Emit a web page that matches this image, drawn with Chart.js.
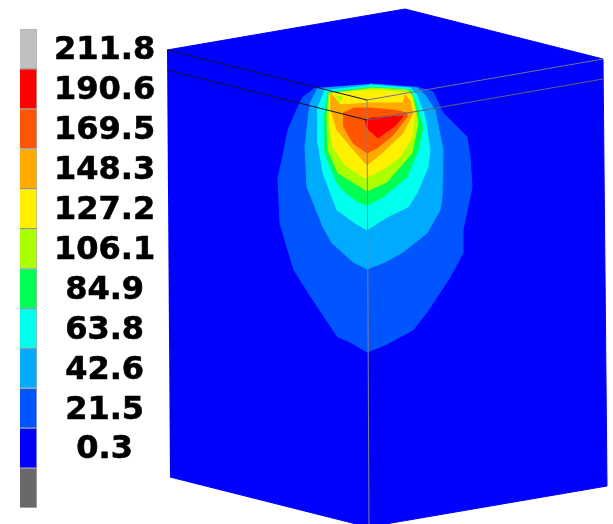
<!DOCTYPE html>
<html>
<head>
<meta charset="utf-8">
<title>Contour plot</title>
<script src="https://cdn.jsdelivr.net/npm/chart.js@4/dist/chart.umd.min.js"></script>
<style>
    html, body { margin: 0; padding: 0; background: #fff; }
    #wrap { position: relative; width: 613px; height: 524px; overflow: hidden; }
    #wrap canvas { position: absolute; top: 0; left: 0; }
</style>
</head>
<body>
<div id="wrap">
    <canvas id="plotChart" width="613" height="524"></canvas>
    <canvas id="legendChart" width="165" height="524"></canvas>
</div>
<script>
// Legend bins, top to bottom (last bin has no label)
const levelLabels = ['211.8', '190.6', '169.5', '148.3', '127.2', '106.1', '84.9', '63.8', '42.6', '21.5', '0.3', ''];
const levelColors = ['#c0c0c0', '#ff0000', '#ff5500', '#ffaa00', '#fff000', '#aaff00', '#00ff55', '#00ffee', '#00aaff', '#0055ff', '#0000ff', '#696969'];
const binCounts = [1, 1, 1, 1, 1, 1, 1, 1, 1, 1, 1, 1];

// Block outline and contours as [x, y]
const blockOutline = [[167, 50], [405, 9], [603, 59], [607, 486], [368, 527], [170, 477]];
const contour21 = [[315, 88], [303, 97], [298, 107], [288, 130], [282, 160], [278, 178], [280, 223], [287, 247], [294, 270], [313, 300], [335, 333], [338, 337], [350, 342], [360, 348], [367, 352], [385, 345], [413, 330], [427, 312], [437, 297], [450, 277], [463, 253], [463, 230], [472, 187], [470, 157], [467, 137], [443, 113], [433, 92], [417, 87], [370, 84]];
const contour42 = [[318, 88], [310, 103], [305, 147], [307, 187], [323, 227], [332, 243], [342, 252], [353, 262], [367, 269], [385, 262], [403, 252], [427, 233], [440, 210], [442, 197], [443, 150], [435, 110], [425, 95], [417, 88], [370, 84]];
const contour63 = [[325, 90], [318, 107], [318, 143], [323, 173], [337, 210], [355, 223], [367, 230], [387, 217], [408, 207], [417, 193], [428, 167], [430, 150], [425, 117], [417, 95], [410, 88], [370, 85]];
const contour84 = [[328, 92], [325, 113], [325, 153], [337, 183], [345, 192], [358, 202], [367, 205], [383, 197], [407, 177], [418, 150], [423, 127], [415, 100], [410, 90], [370, 87]];
const contour106 = [[329, 93], [327, 117], [328, 150], [338, 173], [367, 191], [387, 182], [412, 153], [418, 123], [413, 97], [408, 90], [370, 88]];
const contour127 = [[330, 93], [329, 120], [333, 147], [345, 165], [365, 178], [382, 170], [400, 157], [412, 137], [415, 113], [410, 93], [370, 90]];
const contour148 = [[331, 93], [331, 110], [337, 130], [352, 148], [367, 165], [383, 152], [403, 133], [413, 113], [410, 100], [405, 95], [403, 103], [370, 103], [340, 105], [335, 98]];
const contour169 = [[344, 112], [344, 127], [353, 143], [367, 153], [377, 148], [393, 135], [407, 117], [407, 113], [393, 110], [370, 108], [353, 108]];
const contour190 = [[365, 120], [367, 128], [378, 138], [396, 125], [403, 116], [370, 118]];
const contourNotch = [[336, 96], [343, 97], [339, 103]];

// Edges of the block
const edgeUpperLeft = [[167, 50], [367, 100]];
const edgeUpperRight = [[367, 100], [603, 59]];
const edgeLowerLeft = [[167, 70], [367, 120]];
const edgeLowerRight = [[367, 120], [603, 79]];
const edgeFront = [[367, 100], [369, 527]];

function toPoints(list) {
    return list.map(p => ({ x: p[0], y: p[1] }));
}

function areaDataset(list, color) {
    return {
        data: toPoints(list),
        showLine: true,
        fill: 'shape',
        backgroundColor: color,
        borderColor: color,
        borderWidth: 1,
        pointRadius: 0,
        tension: 0
    };
}

function edgeDataset(list, color) {
    return {
        data: toPoints(list),
        showLine: true,
        fill: false,
        borderColor: color,
        borderWidth: 1,
        pointRadius: 0
    };
}

function createPlot() {
    const datasets = [
        areaDataset(blockOutline, levelColors[10]),
        areaDataset(contour21, levelColors[9]),
        areaDataset(contour42, levelColors[8]),
        areaDataset(contour63, levelColors[7]),
        areaDataset(contour84, levelColors[6]),
        areaDataset(contour106, levelColors[5]),
        areaDataset(contour127, levelColors[4]),
        areaDataset(contourNotch, levelColors[5]),
        areaDataset(contour148, levelColors[3]),
        areaDataset(contour169, levelColors[2]),
        areaDataset(contour190, levelColors[1]),
        edgeDataset(edgeFront, '#808090'),
        edgeDataset(edgeUpperLeft, '#101030'),
        edgeDataset(edgeLowerLeft, '#101030'),
        edgeDataset(edgeUpperRight, '#707090'),
        edgeDataset(edgeLowerRight, '#606080')
    ];
    // lower order is painted last, so later entries end up on top
    datasets.forEach((d, i) => { d.order = -i; });

    new Chart(document.getElementById('plotChart').getContext('2d'), {
        type: 'scatter',
        data: { datasets: datasets },
        options: {
            responsive: false,
            animation: false,
            layout: { padding: 0 },
            plugins: { legend: { display: false }, tooltip: { enabled: false } },
            scales: {
                x: { type: 'linear', min: 0, max: 613, display: false },
                y: { type: 'linear', min: 0, max: 524, reverse: true, display: false }
            }
        }
    });
}

function createLegend() {
    new Chart(document.getElementById('legendChart').getContext('2d'), {
        type: 'bar',
        data: {
            labels: levelLabels,
            datasets: [{
                data: binCounts,
                backgroundColor: levelColors,
                borderColor: 'rgba(0, 0, 0, 0.3)',
                borderWidth: 1,
                categoryPercentage: 1,
                barPercentage: 1
            }]
        },
        options: {
            indexAxis: 'y',
            responsive: false,
            animation: false,
            layout: { padding: { left: 20, top: 29, bottom: 16 } },
            plugins: { legend: { display: false }, tooltip: { enabled: false } },
            scales: {
                x: { min: 0, max: 1, display: false },
                y: {
                    position: 'right',
                    grid: { display: false, drawTicks: false },
                    border: { display: false },
                    afterFit: scale => {
                        scale.width = 128;
                        // the labels may not push the bars in from top and bottom
                        scale.paddingTop = 0;
                        scale.paddingBottom = 0;
                    },
                    ticks: {
                        autoSkip: false,
                        crossAlign: 'center',
                        padding: 17,
                        labelOffset: 2,
                        color: '#000',
                        textStrokeColor: '#000',
                        textStrokeWidth: 0.6,
                        font: { family: 'DejaVu Sans', weight: 'bold', size: 32 }
                    }
                }
            }
        }
    });
}

createPlot();
createLegend();
</script>
</body>
</html>
